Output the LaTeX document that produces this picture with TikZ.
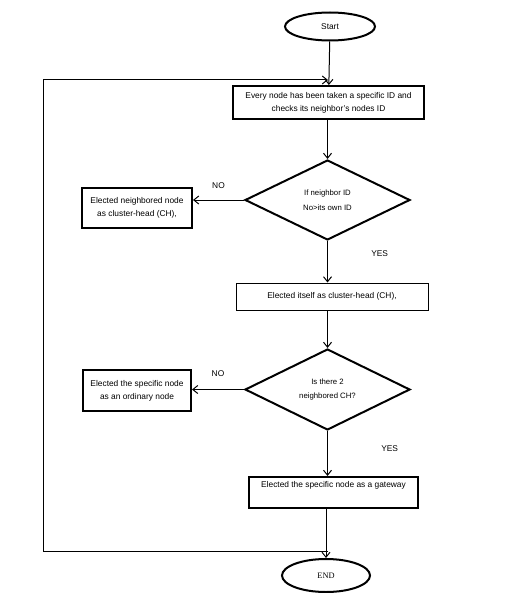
\documentclass[tikz,border=0pt]{standalone}
\usepackage{fontspec}
\setmainfont{Liberation Sans}
\newfontfamily\endfont{Liberation Serif}
\usepackage{tikz}
\usetikzlibrary{arrows.meta,shapes.geometric}

\tikzset{
  flow/.style={font=\fontsize{8.4}{13}\selectfont, align=center},
  box/.style={flow, draw, line width=1bp, inner sep=0pt},
  thickbox/.style={box, line width=2bp},
  decision/.style={flow, draw, diamond, line width=2bp, inner sep=0pt, font=\fontsize{7.8}{14.5}\selectfont},
  terminal/.style={flow, draw, ellipse, line width=2bp, inner sep=0pt},
  >={Straight Barb[length=5bp,width=8bp]}
}

\begin{document}
\begin{tikzpicture}[x=1bp, y=-1bp, line width=1bp]
    \useasboundingbox (0,0) rectangle (508,593);
    \node[terminal, minimum width=90bp, minimum height=28bp] (start) at (330, 26.5){Start};
    \node[thickbox, minimum width=191bp, minimum height=33bp] (check) at (328.5, 102.5){Every node has been taken a specific ID and\\checks its neighbor's nodes ID};
    \node[decision, minimum width=165bp, minimum height=80bp] (ifid) at (327.5, 200){If neighbor ID\\No>its own ID};
    \node[thickbox, minimum width=110bp, minimum height=40bp] (neigh) at (137, 208){Elected neighbored node\\as cluster-head (CH),};
    \node[box, minimum width=192bp, minimum height=27bp] (itself) at (332, 296.5){Elected itself as cluster-head (CH),};
    \node[decision, minimum width=165bp, minimum height=81bp] (twoch) at (327.5, 389.5){Is there 2\\neighbored CH?};
    \node[thickbox, minimum width=108bp, minimum height=41bp] (ordin) at (137, 390.5){Elected the specific node\\as an ordinary node};
    \node[thickbox, minimum width=169bp, minimum height=31bp, text height=7bp, text depth=18bp] (gate) at (333.5, 492.5){Elected the specific node as a gateway};
    \node[terminal, minimum width=88bp, minimum height=33bp, font=\fontsize{8.4}{9}\endfont] (stop) at (326, 575.5){END};
    \coordinate (loopout) at (328, 551);
    \coordinate (loopbot) at (43, 551);
    \coordinate (looptop) at (43, 80);
    \coordinate (loopin) at (328, 80);
    % main line
    \draw[->] (start)--(check);
    \draw[->] (ifid.west)--(ifid.west -| neigh.east) node[midway, above=8bp, flow]{NO};
    \draw[->] (check.south -| ifid.north)--(ifid.north);
    \draw[->] (ifid.south)--(itself.north -| ifid.south) node[pos=0.3, right=40bp, flow]{YES};
    \draw[->] (itself.south -| twoch.north)--(twoch.north);
    \draw[->] (twoch.west)--(twoch.west -| ordin.east) node[midway, above=9bp, flow]{NO};
    \draw[->] (twoch.south)--(gate.north -| twoch.south) node[pos=0.4, right=50bp, flow]{YES};
    \draw[->] (gate.south -| stop.north)--(stop.north);
    % loop back
    \draw[->] (loopout)--(loopbot)--(looptop)--(loopin);
  \end{tikzpicture}
\end{document}
